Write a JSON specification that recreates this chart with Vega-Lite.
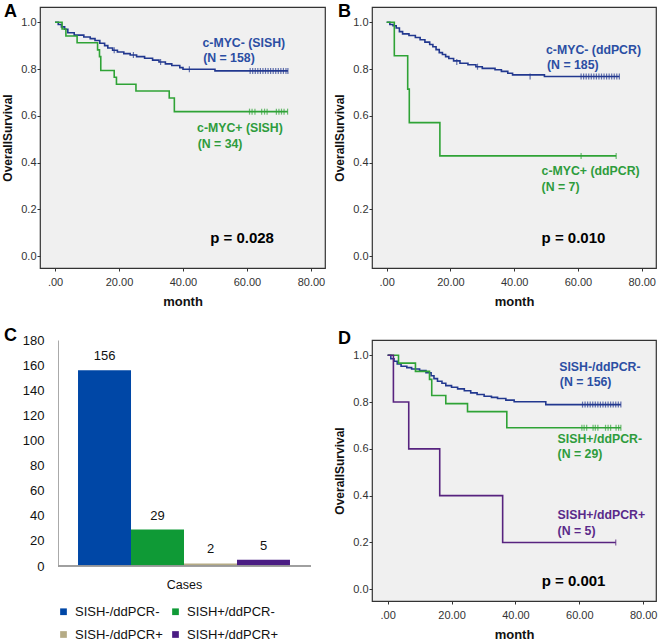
{
  "$schema": "https://vega.github.io/schema/vega-lite/v6.json",
  "background": "white",
  "padding": {"left": 1, "top": 2, "right": 0, "bottom": 0},
  "spacing": 18,
  "resolve": {"scale": {"color": "independent"}, "legend": {"color": "independent"}},
  "datasets": {
    "kmA": [
      {"g":"neg","t":0,"s":1},{"g":"neg","t":1,"s":0.99},{"g":"neg","t":2,"s":0.98},{"g":"neg","t":3,"s":0.97},{"g":"neg","t":4,"s":0.955},{"g":"neg","t":6,"s":0.945},{"g":"neg","t":9,"s":0.937},{"g":"neg","t":11,"s":0.93},{"g":"neg","t":12.5,"s":0.922},{"g":"neg","t":14,"s":0.91},{"g":"neg","t":15.5,"s":0.9},{"g":"neg","t":16.5,"s":0.89},{"g":"neg","t":18,"s":0.88},{"g":"neg","t":19.5,"s":0.873},{"g":"neg","t":21.5,"s":0.866},{"g":"neg","t":23.5,"s":0.86},{"g":"neg","t":25.5,"s":0.853},{"g":"neg","t":28,"s":0.846},{"g":"neg","t":30.5,"s":0.838},{"g":"neg","t":32.5,"s":0.83},{"g":"neg","t":34.5,"s":0.822},{"g":"neg","t":36.5,"s":0.815},{"g":"neg","t":39,"s":0.806},{"g":"neg","t":40,"s":0.799},{"g":"neg","t":50,"s":0.792},{"g":"neg","t":72.8,"s":0.792},
      {"g":"pos","t":0,"s":1},{"g":"pos","t":2.2,"s":0.971},{"g":"pos","t":3.4,"s":0.941},{"g":"pos","t":6.9,"s":0.912},{"g":"pos","t":13.3,"s":0.882},{"g":"pos","t":13.9,"s":0.853},{"g":"pos","t":14.3,"s":0.794},{"g":"pos","t":18.5,"s":0.765},{"g":"pos","t":19.2,"s":0.735},{"g":"pos","t":25.3,"s":0.706},{"g":"pos","t":35.7,"s":0.676},{"g":"pos","t":37.3,"s":0.618},{"g":"pos","t":72.7,"s":0.618}
    ],
    "censA": [
      {"g":"neg","t":18.5,"s":0.88},{"g":"neg","t":24.5,"s":0.86},{"g":"neg","t":33,"s":0.83},{"g":"neg","t":42,"s":0.799},
      {"g":"neg","t":61,"s":0.792},{"g":"neg","t":61.8,"s":0.792},{"g":"neg","t":62.6,"s":0.792},{"g":"neg","t":63.4,"s":0.792},{"g":"neg","t":64.2,"s":0.792},{"g":"neg","t":65,"s":0.792},{"g":"neg","t":65.8,"s":0.792},{"g":"neg","t":66.6,"s":0.792},{"g":"neg","t":67.4,"s":0.792},{"g":"neg","t":68.2,"s":0.792},{"g":"neg","t":69,"s":0.792},{"g":"neg","t":69.8,"s":0.792},{"g":"neg","t":70.6,"s":0.792},{"g":"neg","t":71.4,"s":0.792},{"g":"neg","t":72.2,"s":0.792},{"g":"neg","t":72.8,"s":0.792},
      {"g":"pos","t":60.8,"s":0.618},{"g":"pos","t":61.6,"s":0.618},{"g":"pos","t":62.5,"s":0.618},{"g":"pos","t":64.6,"s":0.618},{"g":"pos","t":65.5,"s":0.618},{"g":"pos","t":66.3,"s":0.618},{"g":"pos","t":69.2,"s":0.618},{"g":"pos","t":70,"s":0.618},{"g":"pos","t":70.8,"s":0.618},{"g":"pos","t":71.6,"s":0.618},{"g":"pos","t":72.7,"s":0.618}
    ],
    "annA": [
      {"g":"neg","t":46.1,"s":0.912,"label":"c-MYC- (SISH)"},
      {"g":"neg","t":46.3,"s":0.849,"label":"(N = 158)"},
      {"g":"pos","t":44.4,"s":0.548,"label":"c-MYC+ (SISH)"},
      {"g":"pos","t":44.6,"s":0.481,"label":"(N = 34)"}
    ],
    "kmB": [
      {"g":"neg","t":0,"s":1},{"g":"neg","t":1,"s":0.99},{"g":"neg","t":2,"s":0.985},{"g":"neg","t":3,"s":0.975},{"g":"neg","t":4,"s":0.96},{"g":"neg","t":5,"s":0.95},{"g":"neg","t":7,"s":0.943},{"g":"neg","t":9,"s":0.935},{"g":"neg","t":10.5,"s":0.925},{"g":"neg","t":12,"s":0.915},{"g":"neg","t":13.5,"s":0.905},{"g":"neg","t":14.5,"s":0.895},{"g":"neg","t":15.5,"s":0.883},{"g":"neg","t":16.5,"s":0.87},{"g":"neg","t":17.5,"s":0.862},{"g":"neg","t":18.5,"s":0.853},{"g":"neg","t":19.5,"s":0.845},{"g":"neg","t":21,"s":0.835},{"g":"neg","t":23,"s":0.825},{"g":"neg","t":25.5,"s":0.818},{"g":"neg","t":28,"s":0.81},{"g":"neg","t":30,"s":0.803},{"g":"neg","t":34,"s":0.797},{"g":"neg","t":36,"s":0.79},{"g":"neg","t":38,"s":0.782},{"g":"neg","t":39.5,"s":0.775},{"g":"neg","t":49.5,"s":0.768},{"g":"neg","t":73,"s":0.768},
      {"g":"pos","t":0,"s":1},{"g":"pos","t":2.4,"s":0.857},{"g":"pos","t":6.6,"s":0.714},{"g":"pos","t":7.1,"s":0.571},{"g":"pos","t":16.7,"s":0.429},{"g":"pos","t":72,"s":0.429}
    ],
    "censB": [
      {"g":"neg","t":22,"s":0.83},{"g":"neg","t":28.5,"s":0.81},{"g":"neg","t":45,"s":0.768},
      {"g":"neg","t":61,"s":0.768},{"g":"neg","t":61.8,"s":0.768},{"g":"neg","t":62.6,"s":0.768},{"g":"neg","t":63.4,"s":0.768},{"g":"neg","t":64.2,"s":0.768},{"g":"neg","t":65,"s":0.768},{"g":"neg","t":65.8,"s":0.768},{"g":"neg","t":66.6,"s":0.768},{"g":"neg","t":67.4,"s":0.768},{"g":"neg","t":68.2,"s":0.768},{"g":"neg","t":69,"s":0.768},{"g":"neg","t":69.8,"s":0.768},{"g":"neg","t":70.6,"s":0.768},{"g":"neg","t":71.4,"s":0.768},{"g":"neg","t":72.2,"s":0.768},{"g":"neg","t":73,"s":0.768},
      {"g":"pos","t":61,"s":0.429},{"g":"pos","t":72,"s":0.429}
    ],
    "annB": [
      {"g":"neg","t":50.0,"s":0.883,"label":"c-MYC- (ddPCR)"},
      {"g":"neg","t":50.3,"s":0.819,"label":"(N = 185)"},
      {"g":"pos","t":48.6,"s":0.365,"label":"c-MYC+ (ddPCR)"},
      {"g":"pos","t":48.6,"s":0.296,"label":"(N = 7)"}
    ],
    "kmD": [
      {"g":"neg","t":0,"s":1},{"g":"neg","t":1,"s":0.985},{"g":"neg","t":2,"s":0.974},{"g":"neg","t":3,"s":0.963},{"g":"neg","t":4.2,"s":0.953},{"g":"neg","t":6,"s":0.947},{"g":"neg","t":7.5,"s":0.941},{"g":"neg","t":10,"s":0.934},{"g":"neg","t":12,"s":0.925},{"g":"neg","t":13.6,"s":0.912},{"g":"neg","t":14.5,"s":0.9},{"g":"neg","t":15.6,"s":0.889},{"g":"neg","t":17,"s":0.88},{"g":"neg","t":18.2,"s":0.87},{"g":"neg","t":20,"s":0.863},{"g":"neg","t":21.9,"s":0.856},{"g":"neg","t":24,"s":0.848},{"g":"neg","t":26,"s":0.839},{"g":"neg","t":28,"s":0.832},{"g":"neg","t":30.2,"s":0.825},{"g":"neg","t":32.5,"s":0.82},{"g":"neg","t":34.4,"s":0.815},{"g":"neg","t":37,"s":0.808},{"g":"neg","t":39.6,"s":0.801},{"g":"neg","t":49.5,"s":0.789},{"g":"neg","t":73,"s":0.789},
      {"g":"pos","t":0,"s":1},{"g":"pos","t":3.4,"s":0.966},{"g":"pos","t":8.7,"s":0.931},{"g":"pos","t":13.1,"s":0.897},{"g":"pos","t":13.8,"s":0.828},{"g":"pos","t":18.2,"s":0.793},{"g":"pos","t":25,"s":0.759},{"g":"pos","t":37.3,"s":0.69},{"g":"pos","t":73,"s":0.69},
      {"g":"dp","t":0,"s":1},{"g":"dp","t":1.8,"s":0.8},{"g":"dp","t":6.6,"s":0.6},{"g":"dp","t":16.3,"s":0.4},{"g":"dp","t":36,"s":0.2},{"g":"dp","t":71.4,"s":0.2}
    ],
    "censD": [
      {"g":"neg","t":61,"s":0.789},{"g":"neg","t":61.8,"s":0.789},{"g":"neg","t":62.6,"s":0.789},{"g":"neg","t":63.4,"s":0.789},{"g":"neg","t":64.2,"s":0.789},{"g":"neg","t":65,"s":0.789},{"g":"neg","t":65.8,"s":0.789},{"g":"neg","t":66.6,"s":0.789},{"g":"neg","t":67.4,"s":0.789},{"g":"neg","t":68.2,"s":0.789},{"g":"neg","t":69,"s":0.789},{"g":"neg","t":69.8,"s":0.789},{"g":"neg","t":70.6,"s":0.789},{"g":"neg","t":71.4,"s":0.789},{"g":"neg","t":72.2,"s":0.789},{"g":"neg","t":73,"s":0.789},
      {"g":"pos","t":60.8,"s":0.69},{"g":"pos","t":61.5,"s":0.69},{"g":"pos","t":62.3,"s":0.69},{"g":"pos","t":64.3,"s":0.69},{"g":"pos","t":65,"s":0.69},{"g":"pos","t":65.8,"s":0.69},{"g":"pos","t":68.2,"s":0.69},{"g":"pos","t":69,"s":0.69},{"g":"pos","t":69.8,"s":0.69},{"g":"pos","t":71.5,"s":0.69},{"g":"pos","t":72.3,"s":0.69},{"g":"pos","t":73,"s":0.69},
      {"g":"dp","t":71.4,"s":0.2}
    ],
    "annD": [
      {"g":"neg","t":53.7,"s":0.949,"label":"SISH-/ddPCR-"},
      {"g":"neg","t":53.9,"s":0.885,"label":"(N = 156)"},
      {"g":"pos","t":53.2,"s":0.64,"label":"SISH+/ddPCR-"},
      {"g":"pos","t":53.2,"s":0.576,"label":"(N = 29)"},
      {"g":"dp","t":53.2,"s":0.316,"label":"SISH+/ddPCR+"},
      {"g":"dp","t":53.2,"s":0.249,"label":"(N = 5)"}
    ],
    "bars": [
      {"grp":"SISH-/ddPCR-","n":156},
      {"grp":"SISH+/ddPCR-","n":29},
      {"grp":"SISH-/ddPCR+","n":2},
      {"grp":"SISH+/ddPCR+","n":5}
    ]
  },
  "config": {
    "font": "Liberation Sans",
    "title": {"anchor": "start", "frame": "group", "fontSize": 18, "fontWeight": "bold", "font": "Liberation Sans", "offset": 0, "baseline": "bottom", "color": "#000"},
    "axis": {"labelFont": "Liberation Sans", "titleFont": "Liberation Sans", "grid": false, "labelOverlap": false}
  },
  "vconcat": [
    {
      "resolve": {"scale": {"color": "independent"}, "legend": {"color": "independent"}},
      "hconcat": [
        {
          "width": 285, "height": 261,
          "title": {"text": "A", "dx": -36, "dy": 18},
          "view": {"fill": "#f0f0f0", "stroke": "#333", "strokeWidth": 1.2},
          "resolve": {"scale": {"color": "independent"}},
          "layer": [
            {
              "data": {"name": "kmA"},
              "mark": {"type": "line", "interpolate": "step-after", "strokeWidth": 1.6},
              "encoding": {
                "x": {"field": "t", "type": "quantitative", "scale": {"domain": [-4.7, 84.4], "nice": false, "zero": false},
                  "axis": {"values": [0, 20, 40, 60, 80], "labelExpr": "datum.value == 0 ? '.00' : format(datum.value, '.2f')", "domain": false, "tickSize": 3, "tickColor": "#333", "labelFontSize": 11, "labelColor": "#333", "labelPadding": 5, "title": "month", "titleFontSize": 13, "titleFontWeight": "bold", "titleColor": "#111", "titlePadding": 8}},
                "y": {"field": "s", "type": "quantitative", "scale": {"domain": [-0.05, 1.065], "nice": false, "zero": false},
                  "axis": {"values": [0, 0.2, 0.4, 0.6, 0.8, 1.0], "format": ".1f", "domain": false, "tickSize": 3, "tickColor": "#333", "labelFontSize": 11, "labelColor": "#333", "labelPadding": 1, "title": "OverallSurvival", "titleFontSize": 12, "titleFontWeight": "bold", "titleColor": "#111", "titlePadding": 6}},
                "color": {"field": "g", "type": "nominal", "scale": {"domain": ["neg", "pos", "dp"], "range": ["#22388f", "#2fa336", "#57237f"]}, "legend": null}
              }
            },
            {
              "data": {"name": "censA"},
              "mark": {"type": "tick", "orient": "vertical", "size": 6, "thickness": 1.2},
              "encoding": {
                "x": {"field": "t", "type": "quantitative"},
                "y": {"field": "s", "type": "quantitative"},
                "color": {"field": "g", "type": "nominal", "scale": {"domain": ["neg", "pos", "dp"], "range": ["#22388f", "#2fa336", "#57237f"]}, "legend": null}
              }
            },
            {
              "data": {"name": "annA"},
              "mark": {"type": "text", "align": "left", "baseline": "middle", "fontSize": 12.3, "fontWeight": "bold", "font": "Liberation Sans"},
              "encoding": {
                "x": {"field": "t", "type": "quantitative"},
                "y": {"field": "s", "type": "quantitative"},
                "text": {"field": "label"},
                "color": {"field": "g", "type": "nominal", "scale": {"domain": ["neg", "pos", "dp"], "range": ["#2b4ea3", "#2e9c3c", "#5a2a8a"]}, "legend": null}
              }
            },
            {
              "data": {"values": [{"t": 48.5, "s": 0.08, "label": "p = 0.028"}]},
              "mark": {"type": "text", "align": "left", "baseline": "middle", "fontSize": 15, "fontWeight": "bold", "font": "Liberation Sans", "color": "#000"},
              "encoding": {
                "x": {"field": "t", "type": "quantitative"},
                "y": {"field": "s", "type": "quantitative"},
                "text": {"field": "label"}
              }
            }
          ]
        },
        {
          "width": 284, "height": 261,
          "title": {"text": "B", "dx": -34, "dy": 18},
          "view": {"fill": "#f0f0f0", "stroke": "#333", "strokeWidth": 1.2},
          "resolve": {"scale": {"color": "independent"}},
          "layer": [
            {
              "data": {"name": "kmB"},
              "mark": {"type": "line", "interpolate": "step-after", "strokeWidth": 1.6},
              "encoding": {
                "x": {"field": "t", "type": "quantitative", "scale": {"domain": [-4.6, 84.5], "nice": false, "zero": false},
                  "axis": {"values": [0, 20, 40, 60, 80], "labelExpr": "datum.value == 0 ? '.00' : format(datum.value, '.2f')", "domain": false, "tickSize": 3, "tickColor": "#333", "labelFontSize": 11, "labelColor": "#333", "labelPadding": 5, "title": "month", "titleFontSize": 13, "titleFontWeight": "bold", "titleColor": "#111", "titlePadding": 8}},
                "y": {"field": "s", "type": "quantitative", "scale": {"domain": [-0.05, 1.065], "nice": false, "zero": false},
                  "axis": {"values": [0, 0.2, 0.4, 0.6, 0.8, 1.0], "format": ".1f", "domain": false, "tickSize": 3, "tickColor": "#333", "labelFontSize": 11, "labelColor": "#333", "labelPadding": 1, "title": "OverallSurvival", "titleFontSize": 12, "titleFontWeight": "bold", "titleColor": "#111", "titlePadding": 6}},
                "color": {"field": "g", "type": "nominal", "scale": {"domain": ["neg", "pos", "dp"], "range": ["#22388f", "#2fa336", "#57237f"]}, "legend": null}
              }
            },
            {
              "data": {"name": "censB"},
              "mark": {"type": "tick", "orient": "vertical", "size": 6, "thickness": 1.2},
              "encoding": {
                "x": {"field": "t", "type": "quantitative"},
                "y": {"field": "s", "type": "quantitative"},
                "color": {"field": "g", "type": "nominal", "scale": {"domain": ["neg", "pos", "dp"], "range": ["#22388f", "#2fa336", "#57237f"]}, "legend": null}
              }
            },
            {
              "data": {"name": "annB"},
              "mark": {"type": "text", "align": "left", "baseline": "middle", "fontSize": 12.3, "fontWeight": "bold", "font": "Liberation Sans"},
              "encoding": {
                "x": {"field": "t", "type": "quantitative"},
                "y": {"field": "s", "type": "quantitative"},
                "text": {"field": "label"},
                "color": {"field": "g", "type": "nominal", "scale": {"domain": ["neg", "pos", "dp"], "range": ["#2b4ea3", "#2e9c3c", "#5a2a8a"]}, "legend": null}
              }
            },
            {
              "data": {"values": [{"t": 48.6, "s": 0.08, "label": "p = 0.010"}]},
              "mark": {"type": "text", "align": "left", "baseline": "middle", "fontSize": 15, "fontWeight": "bold", "font": "Liberation Sans", "color": "#000"},
              "encoding": {
                "x": {"field": "t", "type": "quantitative"},
                "y": {"field": "s", "type": "quantitative"},
                "text": {"field": "label"}
              }
            }
          ]
        }
      ],
      "spacing": 7
    },
    {
      "resolve": {"scale": {"color": "independent"}, "legend": {"color": "independent"}},
      "hconcat": [
        {
          "width": 271, "height": 226,
          "title": {"text": "C", "dx": -36, "dy": 15},
          "view": {"stroke": null},
          "data": {"name": "bars"},
          "encoding": {
            "x": {"field": "grp", "type": "nominal", "sort": null, "scale": {"paddingInner": 0, "paddingOuter": 0.557, "align": 0.644},
              "axis": {"labels": false, "ticks": false, "tickSize": 0, "domain": false, "title": "Cases", "titleX": 144, "titleFontSize": 12.5, "titleFontWeight": "normal", "titleColor": "#111", "titlePadding": 12}},
            "y": {"field": "n", "type": "quantitative", "scale": {"domain": [0, 180], "nice": false},
              "axis": {"values": [0, 20, 40, 60, 80, 100, 120, 140, 160, 180], "labelOverlap": false, "offset": -18, "ticks": false, "tickSize": 0, "domainColor": "#aaa", "title": null, "labelFontSize": 13, "labelColor": "#111", "labelPadding": 14}}
          },
          "layer": [
            {
              "mark": {"type": "bar"},
              "encoding": {
                "color": {"field": "grp", "type": "nominal", "sort": null,
                  "scale": {"domain": ["SISH-/ddPCR-", "SISH+/ddPCR-", "SISH-/ddPCR+", "SISH+/ddPCR+"], "range": ["#0047a6", "#0f9a36", "#b5ab85", "#4a1c83"]},
                  "legend": {"orient": "none", "legendX": 17, "legendY": 265, "padding": 0, "direction": "horizontal", "columns": 2, "title": null, "symbolType": "square", "symbolSize": 45, "symbolStrokeWidth": 0, "labelFontSize": 13, "labelFont": "Liberation Sans", "labelColor": "#111", "columnPadding": 6, "rowPadding": 9, "labelOffset": 5}}
              }
            },
            {
              "mark": {"type": "text", "baseline": "bottom", "dy": -7, "fontSize": 13, "font": "Liberation Sans", "color": "#111"},
              "encoding": {
                "text": {"field": "n", "type": "quantitative"}
              }
            },
            {
              "mark": {"type": "rule", "color": "#999", "strokeWidth": 1},
              "encoding": {
                "x": {"datum": "SISH-/ddPCR-", "bandPosition": -0.377},
                "x2": {"datum": "SISH+/ddPCR+", "bandPosition": 1.396},
                "y": {"datum": 0}
              }
            }
          ]
        },
        {
          "width": 284, "height": 261,
          "title": {"text": "D", "dx": -34, "dy": 12},
          "view": {"fill": "#f0f0f0", "stroke": "#333", "strokeWidth": 1.2},
          "resolve": {"scale": {"color": "independent"}},
          "layer": [
            {
              "data": {"name": "kmD"},
              "mark": {"type": "line", "interpolate": "step-after", "strokeWidth": 1.6},
              "encoding": {
                "x": {"field": "t", "type": "quantitative", "scale": {"domain": [-4.9, 84.0], "nice": false, "zero": false},
                  "axis": {"values": [0, 20, 40, 60, 80], "labelExpr": "datum.value == 0 ? '.00' : format(datum.value, '.2f')", "domain": false, "tickSize": 3, "tickColor": "#333", "labelFontSize": 11, "labelColor": "#333", "labelPadding": 5, "title": "month", "titleFontSize": 13, "titleFontWeight": "bold", "titleColor": "#111", "titlePadding": 8}},
                "y": {"field": "s", "type": "quantitative", "scale": {"domain": [-0.05, 1.065], "nice": false, "zero": false},
                  "axis": {"values": [0, 0.2, 0.4, 0.6, 0.8, 1.0], "format": ".1f", "domain": false, "tickSize": 3, "tickColor": "#333", "labelFontSize": 11, "labelColor": "#333", "labelPadding": 1, "title": "OverallSurvival", "titleFontSize": 12, "titleFontWeight": "bold", "titleColor": "#111", "titlePadding": 6}},
                "color": {"field": "g", "type": "nominal", "scale": {"domain": ["neg", "pos", "dp"], "range": ["#22388f", "#2fa336", "#57237f"]}, "legend": null}
              }
            },
            {
              "data": {"name": "censD"},
              "mark": {"type": "tick", "orient": "vertical", "size": 6, "thickness": 1.2},
              "encoding": {
                "x": {"field": "t", "type": "quantitative"},
                "y": {"field": "s", "type": "quantitative"},
                "color": {"field": "g", "type": "nominal", "scale": {"domain": ["neg", "pos", "dp"], "range": ["#22388f", "#2fa336", "#57237f"]}, "legend": null}
              }
            },
            {
              "data": {"name": "annD"},
              "mark": {"type": "text", "align": "left", "baseline": "middle", "fontSize": 12.3, "fontWeight": "bold", "font": "Liberation Sans"},
              "encoding": {
                "x": {"field": "t", "type": "quantitative"},
                "y": {"field": "s", "type": "quantitative"},
                "text": {"field": "label"},
                "color": {"field": "g", "type": "nominal", "scale": {"domain": ["neg", "pos", "dp"], "range": ["#2b4ea3", "#2e9c3c", "#5a2a8a"]}, "legend": null}
              }
            },
            {
              "data": {"values": [{"t": 48.2, "s": 0.036, "label": "p = 0.001"}]},
              "mark": {"type": "text", "align": "left", "baseline": "middle", "fontSize": 15, "fontWeight": "bold", "font": "Liberation Sans", "color": "#000"},
              "encoding": {
                "x": {"field": "t", "type": "quantitative"},
                "y": {"field": "s", "type": "quantitative"},
                "text": {"field": "label"}
              }
            }
          ]
        }
      ],
      "spacing": 21
    }
  ]
}
